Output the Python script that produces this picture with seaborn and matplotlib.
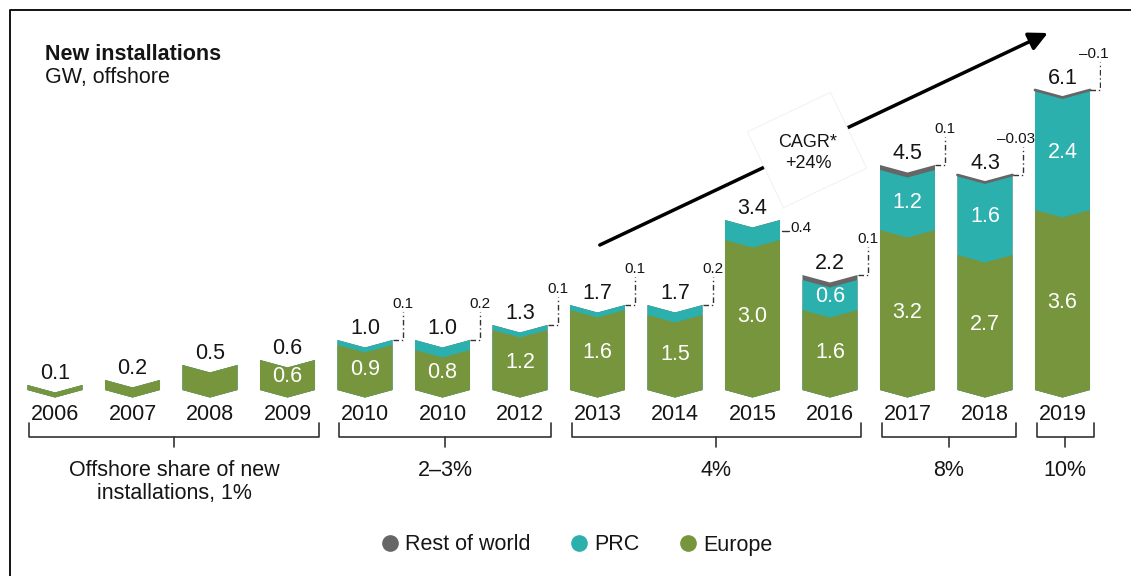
import numpy as np
import pandas as pd
import matplotlib
matplotlib.use('Agg')
import matplotlib.pyplot as plt
from matplotlib.patches import Polygon
from matplotlib.lines import Line2D
import seaborn as sns

# data (GW, offshore)
years = ['2006', '2007', '2008', '2009', '2010', '2010', '2012',
         '2013', '2014', '2015', '2016', '2017', '2018', '2019']
europe = [0.1, 0.2, 0.5, 0.6, 0.9, 0.8, 1.2, 1.6, 1.5, 3.0, 1.6, 3.2, 2.7, 3.6]
prc = [0, 0, 0, 0, 0.1, 0.2, 0.1, 0.1, 0.2, 0.4, 0.6, 1.2, 1.6, 2.4]
row = [0, 0, 0, 0, 0, 0, 0, 0, 0, 0, 0.1, 0.1, -0.03, -0.1]
totals = ['0.1', '0.2', '0.5', '0.6', '1.0', '1.0', '1.3',
          '1.7', '1.7', '3.4', '2.2', '4.5', '4.3', '6.1']
europe_lbl = ['', '', '', '0.6', '0.9', '0.8', '1.2', '1.6', '1.5', '3.0', '1.6', '3.2', '2.7', '3.6']
prc_lbl = ['', '', '', '', '', '', '', '', '', '', '0.6', '1.2', '1.6', '2.4']
# small callouts: bar index -> text
callouts = {4: '0.1', 5: '0.2', 6: '0.1', 7: '0.1', 8: '0.2',
            10: '0.1', 11: '0.1', 12: '\u20130.03', 13: '\u20130.1'}
side_callout = {9: '0.4'}
groups = [(0, 3, 'Offshore share of new\ninstallations, 1%'), (4, 6, '2\u20133%'),
          (7, 10, '4%'), (11, 12, '8%'), (13, 13, '10%')]
cagr = 'CAGR*\n+24%'

GREEN = '#77953c'
TEAL = '#2bb0ad'
GRAY = '#666666'
TXT = '#151515'
FS = 15.5

df = pd.DataFrame({'pos': range(len(years)), 'europe': europe, 'prc': prc, 'row': row})
df['top_ep'] = df['europe'] + df['prc']
df['top_all'] = df['top_ep'] + df['row'].clip(lower=0)

sns.set_theme(style='white')
plt.rcParams['font.family'] = ['Liberation Sans', 'DejaVu Sans']

W, H = 1131, 576
fig = plt.figure(figsize=(W / 100, H / 100), dpi=100)
# axes placed so that bar i sits at x = 55 + 77.5*i px, 0 GW at y = 390 px, 50 px per GW
ymin, ymax = -0.2, 7.6
ax = fig.add_axes([16.25 / W, 1 - 400 / H, 1085 / W, (ymax - ymin) * 50 / H])

bw = 0.71
for col, c in [('top_all', GRAY), ('top_ep', TEAL), ('europe', GREEN)]:
    sns.barplot(data=df, x='pos', y=col, color=c, width=bw, saturation=1,
                errorbar=None, ax=ax)

# turn the rectangles into chevrons
d = 0.15
for rect in list(ax.patches):
    x0, w = rect.get_x(), rect.get_width()
    y0, h = rect.get_y(), rect.get_height()
    xc = x0 + w / 2
    verts = [(x0, y0), (xc, y0 - d), (x0 + w, y0), (x0 + w, y0 + h),
             (xc, y0 + h - d), (x0, y0 + h)]
    poly = Polygon(verts, closed=True, facecolor=rect.get_facecolor(),
                   edgecolor='none', zorder=rect.get_zorder())
    rect.remove()
    ax.add_patch(poly)

ax.set_xlim(-0.5, len(years) - 0.5)
ax.set_ylim(ymin, ymax)
ax.set_xticks(range(len(years)), years)
ax.tick_params(axis='x', length=0, pad=3, labelsize=FS, labelcolor=TXT)
ax.set_yticks([])
ax.set_xlabel('')
ax.set_ylabel('')
sns.despine(ax=ax, left=True, bottom=True)

dash = (0, (4, 2, 1, 2))
for i in range(len(years)):
    top = df['top_all'][i]
    xl, xr = i - bw / 2, i + bw / 2
    # negative rest of world shown as a grey edge
    if row[i] < 0:
        ax.plot([xl, i, xr], [top, top - d, top], color=GRAY, lw=2, zorder=3,
                solid_joinstyle='miter')
    ax.text(i, top + 0.12, totals[i], ha='center', va='baseline', fontsize=FS, color=TXT)
    if europe_lbl[i]:
        ax.text(i, europe[i] / 2 - 0.04, europe_lbl[i], ha='center', va='center',
                fontsize=FS, color='white')
    if prc_lbl[i]:
        ax.text(i, europe[i] + prc[i] / 2 - 0.04, prc_lbl[i], ha='center', va='center',
                fontsize=FS, color='white')
    if i in callouts:
        lx = xr + 0.13
        ax.plot([xr, lx, lx], [top, top, top + 0.56], color='#333333', lw=1,
                linestyle=dash, zorder=3)
        off = -0.08 if callouts[i].startswith('\u2013') else 0
        ax.text(lx + off, top + 0.64, callouts[i], ha='center', va='baseline',
                fontsize=11, color=TXT)
    if i in side_callout:
        ax.plot([xr + 0.03, xr + 0.12], [top - 0.22, top - 0.22], color='#333333', lw=1)
        ax.text(xr + 0.13, top - 0.17, side_callout[i], ha='left', va='center',
                fontsize=11, color=TXT)

# brackets with offshore share
for i0, i1, lbl in groups:
    bl, br = i0 - 0.33, i1 + 0.4
    bc = (bl + br) / 2
    ax.plot([bl, bl, br, br], [-0.66, -0.94, -0.94, -0.66], color='#333333', lw=1.2,
            clip_on=False)
    ax.plot([bc, bc], [-0.94, -1.14], color='#333333', lw=1.2, clip_on=False)
    ax.text(bc, -1.4, lbl, ha='center', va='top', fontsize=FS, color=TXT,
            linespacing=1.1, clip_on=False)

# CAGR arrow
ax.annotate('', xy=(12.81, 7.14), xytext=(7.03, 2.9),
            arrowprops=dict(arrowstyle='-|>', lw=2.5, color='black', mutation_scale=28,
                            shrinkA=0, shrinkB=0), zorder=4)


def px(x, y):
    return (x / W, 1 - y / H)


ang = np.arctan2(212, 448)
cx, cy = 807, 150
u = np.array([np.cos(ang), -np.sin(ang)])
v = np.array([np.sin(ang), np.cos(ang)])
corners = [np.array([cx, cy]) + a * 46 * u + b * 42 * v
           for a, b in [(-1, -1), (1, -1), (1, 1), (-1, 1)]]
fig.patches.append(Polygon([px(*c) for c in corners], closed=True, facecolor='white',
                           edgecolor='#efefef', lw=0.6, transform=fig.transFigure,
                           zorder=5))
fig.text(*px(808, 153), cagr, ha='center', va='center', fontsize=13, color=TXT,
         linespacing=1.3, zorder=6)

# title
fig.text(*px(45, 60), 'New installations', fontsize=FS, fontweight='bold',
         color=TXT, va='baseline')
fig.text(*px(45, 83), 'GW, offshore', fontsize=FS, color=TXT, va='baseline')

# frame (left and top)
fig.add_artist(Line2D([10 / W, 10 / W, 1], [0, 1 - 10 / H, 1 - 10 / H],
                      color='black', lw=1.3, transform=fig.transFigure))

handles = [Line2D([], [], marker='o', linestyle='none', color=c, markersize=11)
           for c in [GRAY, TEAL, GREEN]]
fig.legend(handles, ['Rest of world', 'PRC', 'Europe'], loc='center',
           bbox_to_anchor=px(577, 545), ncol=3, frameon=False, fontsize=FS,
           handlelength=0.8, handletextpad=0.3, columnspacing=1.85, labelcolor=TXT)

fig.savefig('out.png', dpi=100)
